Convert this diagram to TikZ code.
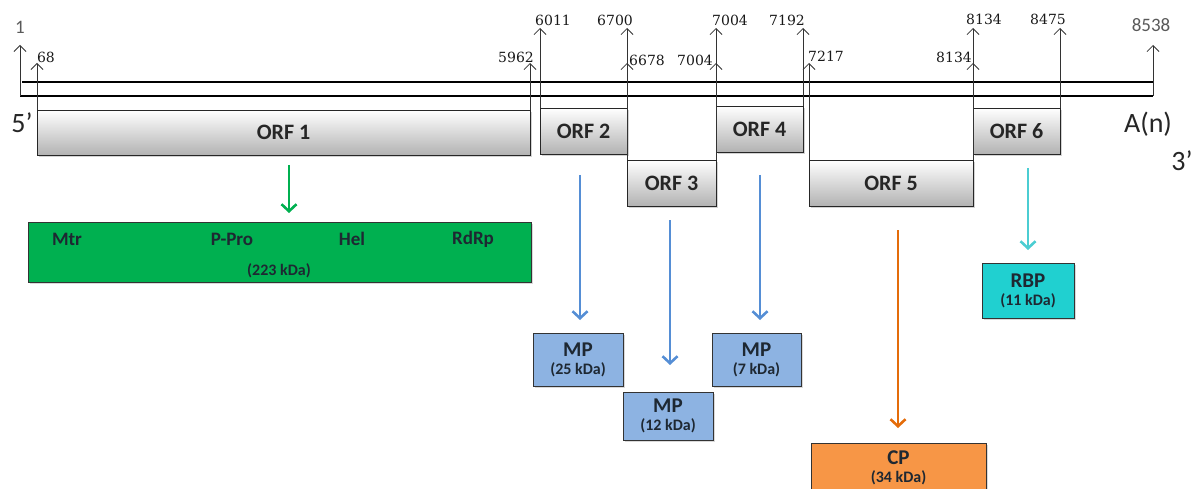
\documentclass[tikz,border=0pt]{standalone}
\usepackage{fontspec}
\setmainfont{Carlito}
\newfontfamily\numfont{DejaVu Serif}
\usetikzlibrary{arrows.meta,shadows}
\definecolor{polgreen}{RGB}{0,176,80}
\definecolor{mpblue}{RGB}{141,179,226}
\definecolor{arrblue}{RGB}{85,142,213}
\definecolor{cporange}{RGB}{247,150,70}
\definecolor{arrorange}{RGB}{228,108,10}
\definecolor{rbpcyan}{RGB}{32,208,208}
\definecolor{arrcyan}{RGB}{75,205,210}
\definecolor{txtdark}{RGB}{30,40,50}
\newcommand\kdafnt{\fontsize{16}{18}\selectfont\bfseries}
\begin{document}
\begin{tikzpicture}[x=1pt,y=-1pt,
  orfbox/.style={draw=black!85, line width=0.8pt, top color=white, bottom color=black!30,
    anchor=north west, inner sep=0pt, outer sep=0pt,
    drop shadow={shadow xshift=2pt, shadow yshift=-2pt, opacity=0.35},
    font=\fontsize{22}{24}\selectfont\bfseries, text=black!85},
  protbox/.style={draw=black!80, line width=0.8pt, anchor=north west, inner sep=0pt, outer sep=0pt,
    drop shadow={shadow xshift=2pt, shadow yshift=-2pt, opacity=0.3},
    align=center, text=txtdark, font=\fontsize{21}{22}\selectfont\bfseries},
  kda/.style={font=\kdafnt},
  genome/.style={line width=2.6pt, black},
  posarr/.style={draw=black!80, line width=0.8pt, -{Straight Barb[length=6pt,width=12pt,line width=0.8pt]}},
  numlbl/.style={font=\numfont\fontsize{14}{14}\selectfont, inner sep=0pt, text=black!90},
  endlbl/.style={font=\fontsize{19}{19}\selectfont, inner sep=0pt, text=black!65},
  bigarr/.style={line width=2.6pt, -{Straight Barb[length=7pt,width=15pt,line width=2.6pt]}},
  termlbl/.style={font=\fontsize{28}{28}\selectfont, inner sep=0pt, text=black!85},
  domlbl/.style={font=\fontsize{19}{19}\selectfont\bfseries, text=txtdark}
]
\useasboundingbox (0,0) rectangle (1193,489);

% genome lines
\coordinate (gs1) at (22,82);
\coordinate (ge1) at (1153,82);
\coordinate (gs2) at (20,96);
\coordinate (ge2) at (1153,96);
\draw[genome] (gs1) -- (ge1);
\draw[genome] (gs2) -- (ge2);

% ORF boxes
\node[orfbox, minimum width=493pt, minimum height=45pt] (orf1) at (37,110) {ORF 1};
\node[orfbox, minimum width=87pt, minimum height=46pt] (orf2) at (540,108) {ORF 2};
\node[orfbox, minimum width=89pt, minimum height=46pt] (orf3) at (627,160) {ORF 3};
\node[orfbox, minimum width=87pt, minimum height=46pt] (orf4) at (716,106) {ORF 4};
\node[orfbox, minimum width=164pt, minimum height=46pt] (orf5) at (809,160) {ORF 5};
\node[orfbox, minimum width=87pt, minimum height=46pt] (orf6) at (973,108) {ORF 6};

% position tips
\coordinate (t1) at (20,45);
\coordinate (t68) at (37,63);
\coordinate (t5962) at (530,63);
\coordinate (t6011) at (540,28);
\coordinate (t6700) at (627,28);
\coordinate (t6678) at (627,63);
\coordinate (t7004a) at (716,28);
\coordinate (t7004b) at (716,63);
\coordinate (t7192) at (803,28);
\coordinate (t7217) at (809,63);
\coordinate (t8134a) at (973,28);
\coordinate (t8134b) at (973,63);
\coordinate (t8475) at (1060,28);
\coordinate (t8538) at (1153,45);

\draw[posarr] (gs2) -- (t1);
\draw[posarr] (orf1.north west) -- (t68);
\draw[posarr] (orf1.north east) -- (t5962);
\draw[posarr] (orf2.north west) -- (t6011);
\draw[posarr] (orf3.north west) -- (t6700);
\draw[posarr] (orf2.north east) -- (t6678);
\draw[posarr] (orf4.north west) -- (t7004a);
\draw[posarr] (orf3.north east) -- (t7004b);
\draw[posarr] (orf4.north east) -- (t7192);
\draw[posarr] (orf5.north west) -- (t7217);
\draw[posarr] (orf6.north west) -- (t8134a);
\draw[posarr] (orf5.north east) -- (t8134b);
\draw[posarr] (orf6.north east) -- (t8475);
\draw[posarr] (ge2) -- (t8538);

% position labels
\node[endlbl] (l1) at (20,27) {1};
\node[numlbl] (l68) at (46,57) {68};
\node[numlbl] (l5962) at (516,57) {5962};
\node[numlbl] (l6011) at (553,20) {6011};
\node[numlbl] (l6700) at (615,20) {6700};
\node[numlbl] (l6678) at (647,60) {6678};
\node[numlbl] (l7004a) at (730,20) {7004};
\node[numlbl] (l7004b) at (695,60) {7004};
\node[numlbl] (l7192) at (787,20) {7192};
\node[numlbl] (l7217) at (826,56) {7217};
\node[numlbl] (l8134a) at (984,19) {8134};
\node[numlbl] (l8134b) at (954,57) {8134};
\node[numlbl] (l8475) at (1048,19) {8475};
\node[endlbl] (l8538) at (1151,25) {8538};

% termini
\node[termlbl] (five) at (22,123) {5\textquoteright};
\node[termlbl] (polyA) at (1148,124) {A(n)};
\node[termlbl] (three) at (1182,161) {3\textquoteright};

% protein boxes
\node[protbox, fill=polgreen, minimum width=503pt, minimum height=60pt] (pol) at (28,222) {};
\node[domlbl] (mtr) at (67,239) {Mtr};
\node[domlbl] (ppro) at (232,239) {P-Pro};
\node[domlbl] (hel) at (352,239) {Hel};
\node[domlbl] (rdrp) at (473,239) {RdRp};
\node[kda, text=txtdark] (k223) at (279,271) {(223 kDa)};

\node[protbox, fill=mpblue, minimum width=90pt, minimum height=53pt] (mp25) at (533,333) {MP\\[-4pt]{\kdafnt (25 kDa)}};
\node[protbox, fill=mpblue, minimum width=90pt, minimum height=48pt] (mp12) at (623,392) {MP\\[-4pt]{\kdafnt (12 kDa)}};
\node[protbox, fill=mpblue, minimum width=89pt, minimum height=53pt] (mp7) at (712,333) {MP\\[-4pt]{\kdafnt (7 kDa)}};
\node[protbox, fill=cporange, minimum width=175pt, minimum height=50pt] (cp) at (811,443) {CP\\[-4pt]{\kdafnt (34 kDa)}};
\node[protbox, fill=rbpcyan, minimum width=92pt, minimum height=55pt] (rbp) at (982,263) {RBP\\[-4pt]{\kdafnt (11 kDa)}};

% expression arrows
\draw[bigarr, polgreen] ([xshift=5.5pt,yshift=-10pt]orf1.south) -- ([xshift=9.5pt,yshift=9pt]pol.north);
\draw[bigarr, arrblue] ([xshift=-3.5pt,yshift=-21pt]orf2.south) -- ([xshift=2pt,yshift=13pt]mp25.north);
\draw[bigarr, arrblue] ([xshift=-1.5pt,yshift=-14pt]orf3.south) -- ([xshift=2pt,yshift=27pt]mp12.north);
\draw[bigarr, arrblue] ([xshift=0.5pt,yshift=-23pt]orf4.south) -- ([xshift=3.5pt,yshift=13pt]mp7.north);
\draw[bigarr, arrorange] ([xshift=7pt,yshift=-24pt]orf5.south) -- ([xshift=-0.5pt,yshift=15pt]cp.north);
\draw[bigarr, arrcyan] ([xshift=11.5pt,yshift=-14pt]orf6.south) -- ([yshift=13pt]rbp.north);
\end{tikzpicture}
\end{document}
